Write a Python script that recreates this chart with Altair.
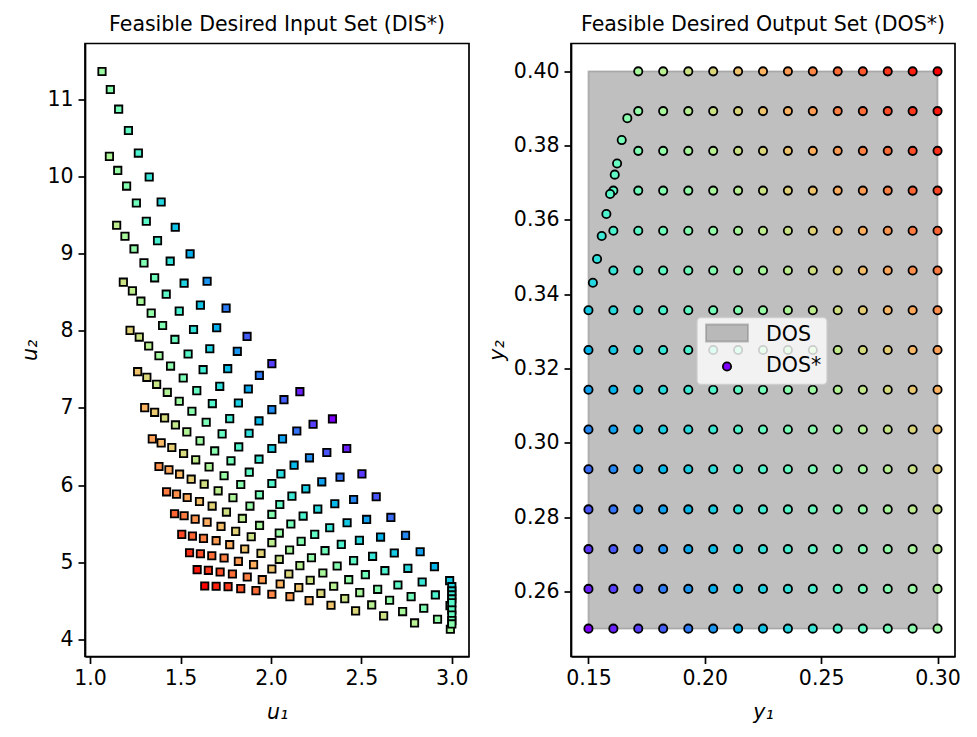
import altair as alt
import pandas as pd

# ---------------- data ----------------
# DOS grid levels
Y1_LEVELS = [0.15, 0.1607, 0.1714, 0.1821, 0.1929, 0.2036, 0.2143, 0.225,
             0.2357, 0.2464, 0.2571, 0.2679, 0.2786, 0.2893, 0.30]
Y2_LEVELS = [0.25, 0.2607, 0.2714, 0.2821, 0.2929, 0.3036, 0.3143, 0.325,
             0.3357, 0.3464, 0.3571, 0.3679, 0.3786, 0.3893, 0.40]
# first grid column present in each y2 row
ROW_FIRST_COL = [0, 0, 0, 0, 0, 0, 0, 0, 0, 1, 1, 1, 2, 2, 2]
# colour value (0..1, rainbow) of each point, per row, from the first column present
COLOR_BY_ROW = [
    [0.00, 0.04, 0.08, 0.12, 0.16, 0.20, 0.24, 0.28, 0.32, 0.36, 0.40, 0.44, 0.48, 0.52, 0.56],
    [0.04, 0.08, 0.12, 0.16, 0.20, 0.24, 0.28, 0.31, 0.35, 0.39, 0.43, 0.47, 0.51, 0.55, 0.59],
    [0.07, 0.11, 0.15, 0.19, 0.23, 0.27, 0.31, 0.35, 0.39, 0.43, 0.47, 0.50, 0.54, 0.58, 0.62],
    [0.11, 0.15, 0.19, 0.22, 0.26, 0.30, 0.34, 0.38, 0.42, 0.46, 0.50, 0.54, 0.58, 0.62, 0.65],
    [0.14, 0.18, 0.22, 0.26, 0.30, 0.34, 0.38, 0.41, 0.45, 0.49, 0.53, 0.57, 0.61, 0.65, 0.69],
    [0.18, 0.22, 0.26, 0.30, 0.33, 0.37, 0.41, 0.45, 0.49, 0.52, 0.56, 0.60, 0.64, 0.68, 0.72],
    [0.22, 0.25, 0.29, 0.33, 0.37, 0.41, 0.44, 0.48, 0.52, 0.56, 0.60, 0.63, 0.67, 0.71, 0.75],
    [0.25, 0.29, 0.33, 0.36, 0.40, 0.44, 0.48, 0.52, 0.55, 0.59, 0.63, 0.67, 0.70, 0.74, 0.78],
    [0.29, 0.33, 0.36, 0.40, 0.44, 0.48, 0.51, 0.55, 0.59, 0.62, 0.66, 0.70, 0.74, 0.77, 0.81],
    [0.36, 0.40, 0.44, 0.47, 0.51, 0.55, 0.58, 0.62, 0.66, 0.69, 0.73, 0.77, 0.81, 0.84],
    [0.40, 0.43, 0.47, 0.51, 0.54, 0.58, 0.62, 0.65, 0.69, 0.73, 0.76, 0.80, 0.84, 0.87],
    [0.43, 0.47, 0.51, 0.54, 0.58, 0.61, 0.65, 0.69, 0.72, 0.76, 0.79, 0.83, 0.87, 0.91],
    [0.50, 0.54, 0.58, 0.61, 0.65, 0.68, 0.72, 0.76, 0.79, 0.83, 0.86, 0.90, 0.94],
    [0.54, 0.58, 0.61, 0.65, 0.68, 0.72, 0.75, 0.79, 0.83, 0.86, 0.90, 0.93, 0.97],
    [0.58, 0.61, 0.65, 0.68, 0.72, 0.75, 0.79, 0.82, 0.86, 0.89, 0.93, 0.96, 1.00],
]
# DIS* points for each DOS row, listed from column 14 (left) down to the first column
DIS_U1_BY_ROW = [
    [1.066, 1.112, 1.158, 1.212, 1.267, 1.327, 1.393, 1.471, 1.553, 1.647, 1.752, 1.868, 2.005, 2.160, 2.340],
    [1.107, 1.153, 1.202, 1.256, 1.311, 1.373, 1.443, 1.520, 1.610, 1.700, 1.814, 1.936, 2.072, 2.233, 2.419],
    [1.147, 1.193, 1.243, 1.298, 1.357, 1.421, 1.493, 1.572, 1.662, 1.761, 1.875, 2.005, 2.143, 2.309, 2.503],
    [1.184, 1.234, 1.281, 1.338, 1.401, 1.469, 1.542, 1.625, 1.717, 1.820, 1.934, 2.064, 2.213, 2.382, 2.582],
    [1.221, 1.272, 1.324, 1.381, 1.445, 1.515, 1.590, 1.676, 1.772, 1.879, 2.005, 2.128, 2.281, 2.457, 2.663],
    [1.263, 1.314, 1.368, 1.427, 1.493, 1.563, 1.642, 1.730, 1.822, 1.934, 2.055, 2.193, 2.353, 2.529, 2.744],
    [1.302, 1.357, 1.412, 1.472, 1.535, 1.608, 1.689, 1.779, 1.880, 2.005, 2.116, 2.259, 2.421, 2.606, 2.825],
    [1.344, 1.393, 1.452, 1.517, 1.584, 1.658, 1.741, 1.833, 1.936, 2.049, 2.178, 2.325, 2.489, 2.682, 2.904],
    [1.381, 1.436, 1.495, 1.559, 1.631, 1.708, 1.790, 1.884, 2.005, 2.110, 2.242, 2.389, 2.562, 2.757, 2.988],
    [1.423, 1.478, 1.537, 1.605, 1.675, 1.754, 1.842, 1.937, 2.046, 2.167, 2.299, 2.457, 2.630, 2.836],
    [1.467, 1.520, 1.581, 1.647, 1.724, 1.805, 1.891, 2.005, 2.103, 2.224, 2.366, 2.522, 2.702, 2.909],
    [1.507, 1.566, 1.627, 1.697, 1.772, 1.855, 1.945, 2.046, 2.160, 2.287, 2.430, 2.590, 2.775, 2.990],
    [1.550, 1.610, 1.673, 1.741, 1.820, 1.904, 2.005, 2.099, 2.217, 2.347, 2.491, 2.656, 2.845],
    [1.592, 1.654, 1.719, 1.787, 1.869, 1.952, 2.051, 2.154, 2.276, 2.408, 2.557, 2.728, 2.921],
    [1.634, 1.697, 1.763, 1.833, 1.917, 2.005, 2.105, 2.211, 2.332, 2.468, 2.623, 2.794, 2.992],
]
DIS_U2_BY_ROW = [
    [11.366, 11.133, 10.878, 10.601, 10.308, 9.997, 9.673, 9.345, 9.000, 8.645, 8.296, 7.929, 7.575, 7.212, 6.858],
    [10.265, 10.083, 9.880, 9.660, 9.423, 9.172, 8.905, 8.620, 8.335, 8.041, 7.735, 7.424, 7.108, 6.789, 6.474],
    [9.371, 9.228, 9.064, 8.883, 8.689, 8.477, 8.257, 8.019, 7.769, 7.510, 7.247, 6.979, 6.702, 6.422, 6.145],
    [8.633, 8.520, 8.386, 8.231, 8.071, 7.890, 7.700, 7.497, 7.281, 7.065, 6.832, 6.599, 6.353, 6.102, 5.848],
    [8.007, 7.920, 7.804, 7.678, 7.544, 7.389, 7.225, 7.057, 6.862, 6.672, 6.474, 6.258, 6.042, 5.813, 5.580],
    [7.471, 7.398, 7.307, 7.203, 7.087, 6.957, 6.815, 6.664, 6.495, 6.336, 6.145, 5.951, 5.757, 5.554, 5.347],
    [7.005, 6.944, 6.871, 6.780, 6.690, 6.573, 6.443, 6.314, 6.167, 6.020, 5.856, 5.688, 5.511, 5.325, 5.135],
    [6.599, 6.547, 6.487, 6.409, 6.327, 6.236, 6.120, 6.007, 5.873, 5.748, 5.597, 5.446, 5.282, 5.118, 4.941],
    [6.241, 6.197, 6.141, 6.076, 6.012, 5.925, 5.835, 5.727, 5.619, 5.494, 5.360, 5.230, 5.075, 4.919, 4.759],
    [5.912, 5.882, 5.839, 5.787, 5.727, 5.649, 5.567, 5.476, 5.377, 5.269, 5.148, 5.019, 4.889, 4.742],
    [5.627, 5.601, 5.558, 5.519, 5.463, 5.399, 5.329, 5.252, 5.157, 5.057, 4.949, 4.837, 4.703, 4.574],
    [5.360, 5.338, 5.308, 5.278, 5.226, 5.170, 5.114, 5.036, 4.954, 4.859, 4.772, 4.647, 4.552, 4.435],
    [5.122, 5.109, 5.083, 5.053, 5.010, 4.967, 4.911, 4.846, 4.764, 4.686, 4.604, 4.505, 4.401],
    [4.902, 4.893, 4.872, 4.846, 4.807, 4.772, 4.716, 4.669, 4.595, 4.526, 4.444, 4.358, 4.259],
    [4.690, 4.686, 4.682, 4.656, 4.630, 4.583, 4.552, 4.500, 4.440, 4.367, 4.302, 4.211, 4.129],
]
# boundary (curved) part of DOS* and its DIS* images
BOUND_Y1 = [0.1519, 0.1537, 0.1557, 0.1577, 0.1593, 0.1613, 0.1623, 0.1643, 0.1667]
BOUND_Y2 = [0.3431, 0.3495, 0.3557, 0.3616, 0.3670, 0.3722, 0.3752, 0.3815, 0.3874]
BOUND_C = [0.32, 0.34, 0.37, 0.40, 0.42, 0.44, 0.45, 0.48, 0.52]
BOUND_U1 = [3.0, 3.0, 3.0, 3.0, 3.0, 3.0, 3.0, 3.0, 3.0]
BOUND_U2 = [4.681, 4.626, 4.574, 4.522, 4.471, 4.379, 4.314, 4.241, 4.198]

# matplotlib 'rainbow' colormap samples
RAINBOW_STOPS = [0.0, 0.05, 0.1, 0.15, 0.2, 0.25, 0.3, 0.35, 0.4, 0.45, 0.5,
                 0.55, 0.6, 0.65, 0.7, 0.75, 0.8, 0.85, 0.9, 0.95, 1.0]
RAINBOW_COLORS = ["#8000ff", "#6628fe", "#4d4ffc", "#3374f8", "#1a96f2", "#00b4ec",
                  "#1acee3", "#33e3da", "#4df3ce", "#66fcc2", "#80ffb4", "#99fca6",
                  "#b3f396", "#cce385", "#e6ce74", "#ffb462", "#ff964f", "#ff743b",
                  "#ff4f28", "#ff2814", "#ff0000"]

X_TICKS_L = [1.0, 1.5, 2.0, 2.5, 3.0]
Y_TICKS_L = [4, 5, 6, 7, 8, 9, 10, 11]
X_TICKS_R = [0.15, 0.20, 0.25, 0.30]
Y_TICKS_R = [0.26, 0.28, 0.30, 0.32, 0.34, 0.36, 0.38, 0.40]

# ---------------- build tables ----------------
dos_rows, dis_rows = [], []
for r, y2 in enumerate(Y2_LEVELS):
    f = ROW_FIRST_COL[r]
    for k in range(f, len(Y1_LEVELS)):
        dos_rows.append({"y1": Y1_LEVELS[k], "y2": y2, "c": COLOR_BY_ROW[r][k - f]})
    for i, (u1, u2) in enumerate(zip(DIS_U1_BY_ROW[r], DIS_U2_BY_ROW[r])):
        k = len(Y1_LEVELS) - 1 - i
        dis_rows.append({"u1": u1, "u2": u2, "c": COLOR_BY_ROW[r][k - f]})
for y1, y2, c, u1, u2 in zip(BOUND_Y1, BOUND_Y2, BOUND_C, BOUND_U1, BOUND_U2):
    dos_rows.append({"y1": y1, "y2": y2, "c": c})
    dis_rows.append({"u1": u1, "u2": u2, "c": c})
dos_df = pd.DataFrame(dos_rows)
dis_df = pd.DataFrame(dis_rows)
rect_df = pd.DataFrame({"x": [min(Y1_LEVELS)], "x2": [max(Y1_LEVELS)],
                        "y": [min(Y2_LEVELS)], "y2": [max(Y2_LEVELS)]})

FONT = "DejaVu Sans"
FS = 20.5
W, H = 384, 613

fill_scale = alt.Scale(domain=RAINBOW_STOPS, range=RAINBOW_COLORS, interpolate="rgb")

left = alt.Chart(dis_df).mark_square(size=54, stroke="black", strokeWidth=1.8, opacity=1).encode(
    x=alt.X("u1:Q", scale=alt.Scale(domain=[0.972, 3.095], nice=False, zero=False),
            axis=alt.Axis(values=X_TICKS_L, format=".1f", title="u₁")),
    y=alt.Y("u2:Q", scale=alt.Scale(domain=[3.775, 11.73], nice=False, zero=False),
            axis=alt.Axis(values=Y_TICKS_L, format="d", title="u₂")),
    fill=alt.Fill("c:Q", scale=fill_scale, legend=None),
).properties(width=W, height=H,
             title=alt.TitleParams("Feasible Desired Input Set (DIS*)", fontSize=FS,
                                   font=FONT, fontWeight="normal", anchor="middle", offset=8))

rect = alt.Chart(rect_df).mark_rect(fill="gray", fillOpacity=0.5, stroke="gray",
                                    strokeOpacity=0.5, strokeWidth=1.8).encode(
    x=alt.X("x:Q", scale=alt.Scale(domain=[0.1425, 0.3075], nice=False, zero=False),
            axis=alt.Axis(values=X_TICKS_R, format=".2f", title="y₁")),
    x2="x2:Q",
    y=alt.Y("y:Q", scale=alt.Scale(domain=[0.2425, 0.4075], nice=False, zero=False),
            axis=alt.Axis(values=Y_TICKS_R, format=".2f", title="y₂")),
    y2="y2:Q",
)

pts = alt.Chart(dos_df).mark_circle(size=68, stroke="black", strokeWidth=1.8, opacity=1).encode(
    x="y1:Q", y="y2:Q",
    fill=alt.Fill("c:Q", scale=fill_scale, legend=None),
)

# legend (matplotlib-style box inside the plot)
lg = alt.Chart(rect_df)
leg_box = lg.mark_rect(fill="white", fillOpacity=0.8, stroke="#cccccc", strokeOpacity=0.8,
                       strokeWidth=1.5, cornerRadius=4).encode(
    x=alt.value(126), x2=alt.value(256), y=alt.value(274), y2=alt.value(341))
leg_patch = lg.mark_rect(fill="gray", fillOpacity=0.5, stroke="gray", strokeOpacity=0.5,
                         strokeWidth=1.8).encode(
    x=alt.value(135), x2=alt.value(177), y=alt.value(281), y2=alt.value(298))
leg_dot = lg.mark_circle(size=68, stroke="black", strokeWidth=1.8, opacity=1,
                         fill=RAINBOW_COLORS[0]).encode(x=alt.value(156), y=alt.value(323))
leg_t1 = lg.mark_text(align="left", baseline="alphabetic", font=FONT, fontSize=FS,
                      color="black").encode(x=alt.value(195), y=alt.value(297),
                                            text=alt.value("DOS"))
leg_t2 = lg.mark_text(align="left", baseline="alphabetic", font=FONT, fontSize=FS,
                      color="black").encode(x=alt.value(195), y=alt.value(328.5),
                                            text=alt.value("DOS*"))

right = alt.layer(rect, pts, leg_box, leg_patch, leg_dot, leg_t1, leg_t2).properties(
    width=W, height=H,
    title=alt.TitleParams("Feasible Desired Output Set (DOS*)", fontSize=FS,
                          font=FONT, fontWeight="normal", anchor="middle", offset=8))

chart = alt.hconcat(left, right, spacing=16).properties(
    padding={"left": 20, "top": 13.5, "right": 10, "bottom": 10},
    background="white",
).configure_view(stroke="black", strokeWidth=1.7).configure_axis(
    labelFont=FONT, labelFontSize=FS, labelColor="black",
    titleFont=FONT, titleFontSize=FS, titleColor="black", titleFontWeight="normal",
    titleFontStyle="italic",
    domainColor="black", domainWidth=1.7, tickColor="black", tickWidth=1.7, tickSize=7,
    labelPadding=5, titlePadding=6, grid=False, labelFlush=False, labelOverlap=False,
).configure_axisX(titlePadding=13)

chart.save("out.html", embed_options={"renderer": "svg", "actions": False})
